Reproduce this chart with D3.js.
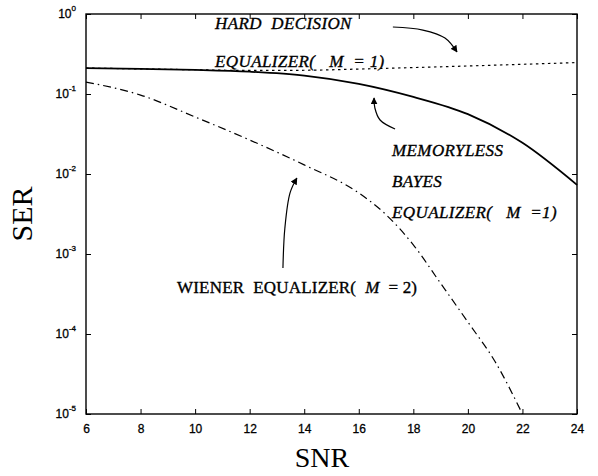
<!DOCTYPE html>
<html>
<head>
<meta charset="utf-8">
<script src="https://cdn.jsdelivr.net/npm/d3@7"></script>
<style>
  body { margin: 0; background: #fff; }
  text { white-space: pre; }
</style>
</head>
<body>
<div id="chart"></div>
<script>
// SNR (dB) and symbol error rate
const snr = [6, 8, 10, 12, 14, 16, 18, 20, 22, 24]
const bayesSer = [0.211, 0.206, 0.2, 0.19, 0.17, 0.134, 0.092, 0.056, 0.0245, 0.0073]
const hardSer = [0.211, 0.206, 0.201, 0.197, 0.198, 0.205, 0.214, 0.224, 0.235, 0.247]
const wienerSnr = [6, 8, 10, 12, 14, 16, 17, 18, 19, 20, 21, 22]
const wienerSer = [0.141, 0.097, 0.0516, 0.0266, 0.013, 0.0058, 0.0031, 0.0013, 0.00043, 0.000141, 0.000045, 0.00001]
const xTicks = [6, 8, 10, 12, 14, 16, 18, 20, 22, 24]
const yTicks = [1, 1e-1, 1e-2, 1e-3, 1e-4, 1e-5]
const yExps = ['0', '-1', '-2', '-3', '-4', '-5']

// annotation arrows, in data units
const hardArrow = [[17.25, 0.688], [18.35, 0.63], [19.16, 0.5], [19.6, 0.335]]
const bayesArrow = [[17.33, 0.0365], [16.78, 0.0473], [16.59, 0.0668], [16.56, 0.089]]
const wienerArrow = [[13.22, 0.00067], [13.29, 0.0021], [13.48, 0.0058], [13.73, 0.0089]]

const width = 598
const height = 476
const mLeft = 86, mRight = 577, mTop = 14, mBottom = 414

const svg = d3.select('#chart')
              .append('svg')
              .attr('width', width)
              .attr('height', height)

svg.append('defs')
   .append('marker')
   .attr('id', 'head')
   .attr('viewBox', '0 0 10 10')
   .attr('refX', 9)
   .attr('refY', 5)
   .attr('markerWidth', 7)
   .attr('markerHeight', 7)
   .attr('markerUnits', 'userSpaceOnUse')
   .attr('orient', 'auto')
   .append('path')
   .attr('d', 'M0,0 L10,5 L0,10 z')
   .attr('fill', '#000')

const x = d3.scaleLinear().domain([6, 24]).range([mLeft, mRight])
const y = d3.scaleLog().domain([1e-5, 1]).range([mBottom, mTop])

const tickFont = '12px "Liberation Sans", Arial, sans-serif'

// ticks on all four sides, pointing inward
svg.append('g')
   .attr('transform', `translate(0, ${mBottom})`)
   .call(d3.axisBottom(x).tickValues(xTicks).tickSizeInner(-5).tickSizeOuter(0).tickPadding(10))
   .call(g => g.select('.domain').remove())
   .selectAll('text')
   .style('font', tickFont)
   .attr('stroke', '#000')
   .attr('stroke-width', 0.3)

svg.append('g')
   .attr('transform', `translate(0, ${mTop})`)
   .call(d3.axisTop(x).tickValues(xTicks).tickSizeInner(-5).tickSizeOuter(0).tickFormat(''))
   .call(g => g.select('.domain').remove())

svg.append('g')
   .attr('transform', `translate(${mLeft}, 0)`)
   .call(d3.axisLeft(y).tickValues(yTicks).tickSizeInner(-5).tickSizeOuter(0).tickFormat(''))
   .call(g => g.select('.domain').remove())

svg.append('g')
   .attr('transform', `translate(${mRight}, 0)`)
   .call(d3.axisRight(y).tickValues(yTicks).tickSizeInner(-5).tickSizeOuter(0).tickFormat(''))
   .call(g => g.select('.domain').remove())

// frame
svg.append('rect')
   .attr('x', mLeft)
   .attr('y', mTop)
   .attr('width', mRight - mLeft)
   .attr('height', mBottom - mTop)
   .attr('fill', 'none')
   .attr('stroke', '#000')
   .attr('stroke-width', 1.4)

// y tick labels 10^n
const yLab = svg.append('g')
                .style('font', tickFont)
                .attr('stroke', '#000')
                .attr('stroke-width', 0.3)
yTicks.forEach((v, i) => {
    const t = yLab.append('text')
                  .attr('x', mLeft - 10)
                  .attr('y', y(v) + 4)
                  .attr('text-anchor', 'end')
    t.append('tspan').text('10')
    t.append('tspan')
     .attr('dy', -7)
     .style('font-size', '8px')
     .text(yExps[i])
})

const line = d3.line()
               .x(d => x(d[0]))
               .y(d => y(d[1]))
               .curve(d3.curveMonotoneX)

svg.append('path')
   .attr('d', line(snr.map((s, i) => [s, hardSer[i]])))
   .attr('fill', 'none')
   .attr('stroke', '#000')
   .attr('stroke-width', 1.2)
   .attr('stroke-dasharray', '2.5,3.5')

svg.append('path')
   .attr('d', line(snr.map((s, i) => [s, bayesSer[i]])))
   .attr('fill', 'none')
   .attr('stroke', '#000')
   .attr('stroke-width', 1.8)

svg.append('path')
   .attr('d', line(wienerSnr.map((s, i) => [s, wienerSer[i]])))
   .attr('fill', 'none')
   .attr('stroke', '#000')
   .attr('stroke-width', 1.2)
   .attr('stroke-dasharray', '8,4,1.5,4')

// arrows
const arrowLine = d3.line()
                    .x(d => x(d[0]))
                    .y(d => y(d[1]))
                    .curve(d3.curveCatmullRom)
;[hardArrow, bayesArrow, wienerArrow].forEach(a => {
    svg.append('path')
       .attr('d', arrowLine(a))
       .attr('fill', 'none')
       .attr('stroke', '#000')
       .attr('stroke-width', 1.2)
       .attr('marker-end', 'url(#head)')
})

// annotations
const note = (px, py, str, italic) => svg.append('text')
    .attr('x', px)
    .attr('y', py)
    .attr('stroke', '#000')
    .attr('stroke-width', 0.35)
    .style('font', `${italic ? 'italic ' : ''}17px "Liberation Serif", "Times New Roman", serif`)
    .style('letter-spacing', italic ? '0.4px' : '0.2px')
    .text(str)

note(215, 29, 'HARD  DECISION', true)
note(215, 67, 'EQUALIZER(   M  = 1)', true)
note(392, 156, 'MEMORYLESS', true)
note(392, 187, 'BAYES', true)
note(392, 218, 'EQUALIZER(   M  =1)', true)

const w = note(177, 293, '', false)
w.append('tspan').text('WIENER  EQUALIZER(  ')
w.append('tspan').style('font-style', 'italic').text('M')
w.append('tspan').text('  = 2)')

// axis titles
svg.append('text')
   .attr('x', 322)
   .attr('y', 467)
   .attr('text-anchor', 'middle')
   .style('font', '28px "Liberation Serif", "Times New Roman", serif')
   .text('SNR')

svg.append('text')
   .attr('transform', 'translate(32, 214) rotate(-90)')
   .attr('text-anchor', 'middle')
   .style('font', '30px "Liberation Serif", "Times New Roman", serif')
   .text('SER')
</script>
</body>
</html>
